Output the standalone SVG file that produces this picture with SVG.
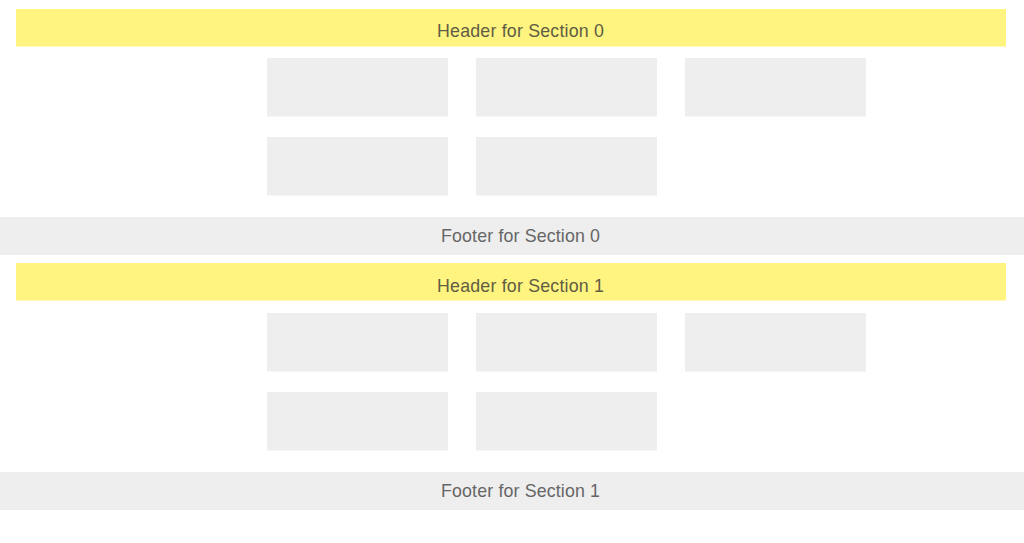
<svg xmlns="http://www.w3.org/2000/svg" width="1024" height="543" viewBox="0 0 1024 543">
<style>
.hdr{fill:#fff47f}
.ftr{fill:#eeeeee}
.box{fill:#eeeeee}
.lbl{font-family:"Liberation Sans",Arial,sans-serif;font-size:17.8px;fill:#666666;text-anchor:middle}
.hlbl{fill:#5f5c45}
</style>
<rect width="1024" height="543" fill="#ffffff"/>
<g id="section0">
<g id="header0"><rect class="hdr" x="16" y="9" width="990" height="37.5"/><text class="lbl hlbl" x="520.5" y="36.5" textLength="167" lengthAdjust="spacing">Header for Section 0</text></g>
<g id="s0n0"><rect class="box" x="267" y="58" width="181" height="58.5"/></g>
<g id="s0n1"><rect class="box" x="476" y="58" width="181" height="58.5"/></g>
<g id="s0n2"><rect class="box" x="685" y="58" width="181" height="58.5"/></g>
<g id="s0n3"><rect class="box" x="267" y="137" width="181" height="58.5"/></g>
<g id="s0n4"><rect class="box" x="476" y="137" width="181" height="58.5"/></g>
<g id="footer0"><rect class="ftr" x="0" y="217" width="1024" height="38"/><text class="lbl" x="520.5" y="241.5" textLength="159" lengthAdjust="spacing">Footer for Section 0</text></g>
</g>
<g id="section1">
<g id="header1"><rect class="hdr" x="16" y="263" width="990" height="37.5"/><text class="lbl hlbl" x="520.5" y="291.5" textLength="167" lengthAdjust="spacing">Header for Section 1</text></g>
<g id="s1n0"><rect class="box" x="267" y="313" width="181" height="58.5"/></g>
<g id="s1n1"><rect class="box" x="476" y="313" width="181" height="58.5"/></g>
<g id="s1n2"><rect class="box" x="685" y="313" width="181" height="58.5"/></g>
<g id="s1n3"><rect class="box" x="267" y="392" width="181" height="58.5"/></g>
<g id="s1n4"><rect class="box" x="476" y="392" width="181" height="58.5"/></g>
<g id="footer1"><rect class="ftr" x="0" y="472" width="1024" height="38"/><text class="lbl" x="520.5" y="496.5" textLength="159" lengthAdjust="spacing">Footer for Section 1</text></g>
</g>
<g id="connectors"/>
</svg>
